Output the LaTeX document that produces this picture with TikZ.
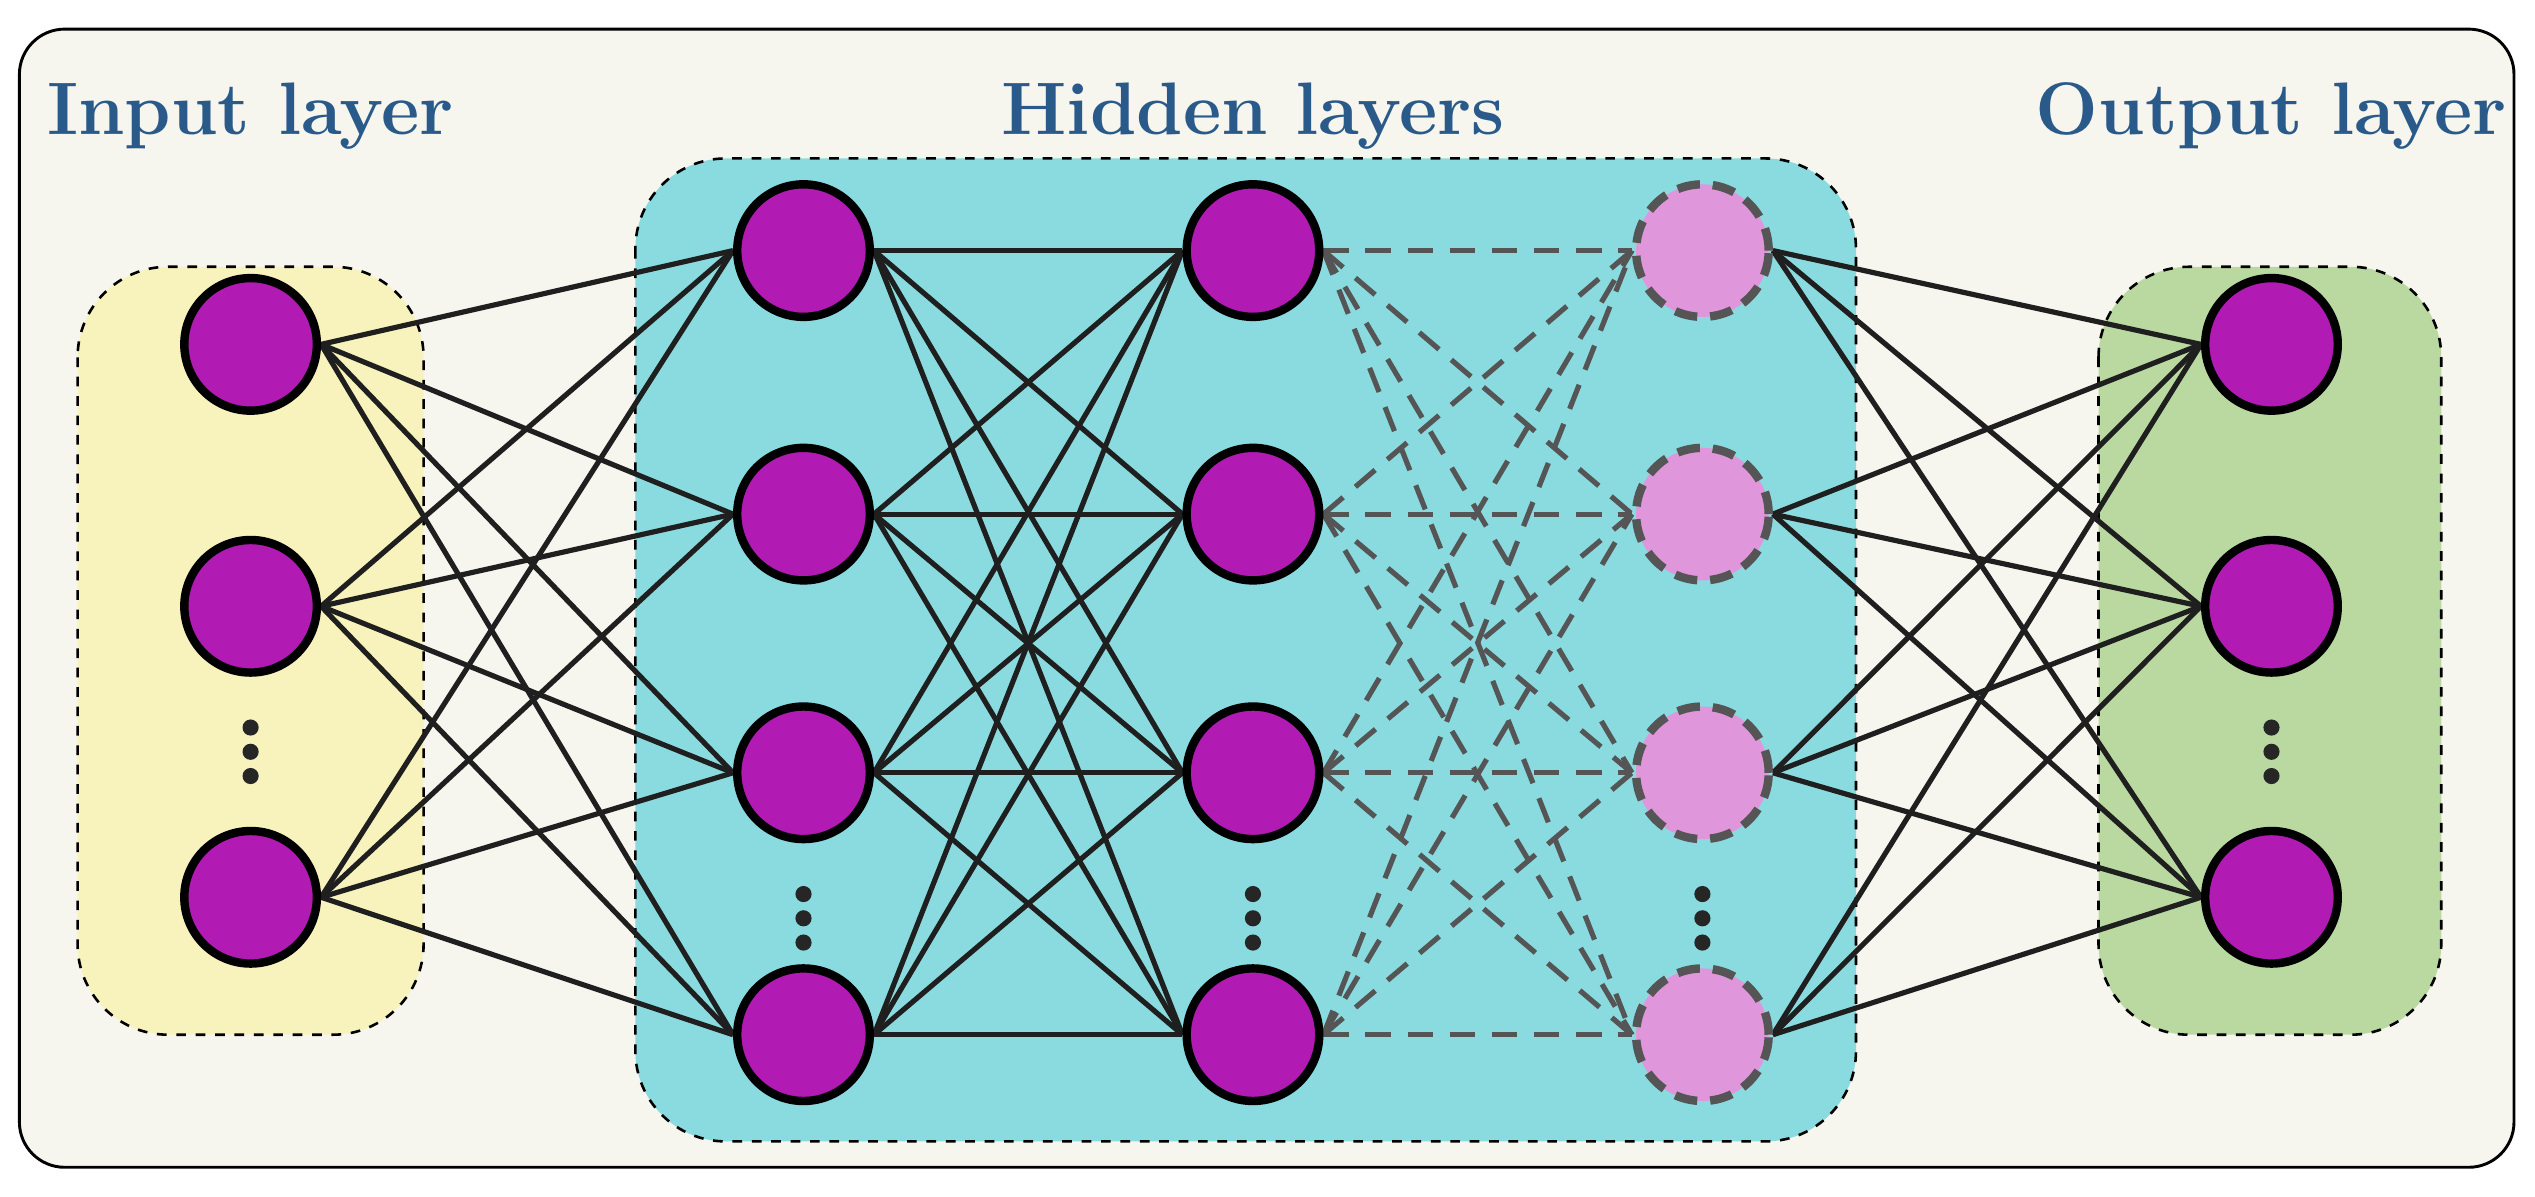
\documentclass[tikz,border=0pt]{standalone}
\usetikzlibrary{backgrounds}
\definecolor{frame}{HTML}{F6F5EE}
\definecolor{inbox}{HTML}{F8F3BC}
\definecolor{hidbox}{HTML}{8ADBE0}
\definecolor{outbox}{HTML}{B9D9A1}
\definecolor{neur}{HTML}{B21AB4}
\definecolor{drop}{HTML}{E096DA}
\definecolor{title}{HTML}{2A5A8A}
\definecolor{dgray}{HTML}{555555}
\pgfdeclarelayer{edges}
\pgfsetlayers{background,edges,main}
\begin{document}
\begin{tikzpicture}[x=0.5pt,y=-0.5pt,
  neuron/.style={circle,draw=black,fill=neur,line width=2.6pt,minimum size=41pt,inner sep=0pt},
  dneuron/.style={circle,draw=dgray,fill=drop,line width=2.6pt,dash pattern=on 7pt off 4pt,minimum size=41pt,inner sep=0pt},
  grp/.style={draw=black,dashed,line width=0.8pt,rounded corners=28pt},
  edge/.style={draw=black!88,line width=1.6pt},
  dedge/.style={draw=dgray,line width=1.6pt,dash pattern=on 8pt off 5pt},
  ttl/.style={text=title,font=\fontsize{23}{27}\selectfont\bfseries},
  dot/.style={circle,fill=black!85,inner sep=0pt,minimum size=5pt}]
\useasboundingbox (0,0) rectangle (1568,740);
\begin{scope}[on background layer]
\draw[line width=0.9pt,fill=frame,rounded corners=14pt] (12,18) rectangle (1555,722);
\draw[grp,fill=inbox] (48,165) rectangle (262,640);
\draw[grp,fill=hidbox] (393,98) rectangle (1148,706);
\draw[grp,fill=outbox] (1298,165) rectangle (1510,640);
\end{scope}
\node[ttl] (t1) at (155,72) {Input layer};
\node[ttl] (t2) at (775,72) {Hidden layers};
\node[ttl] (t3) at (1405,72) {Output layer};
\foreach \y [count=\i] in {213,375,555}{
  \node[neuron] (i\i) at (155,\y) {};
  \node[neuron] (o\i) at (1405,\y) {};}
\foreach \y [count=\i] in {155,318,478,640}{
  \node[neuron] (a\i) at (497,\y) {};
  \node[neuron] (b\i) at (775,\y) {};
  \node[dneuron] (c\i) at (1053,\y) {};}
\foreach \x/\y in {155/465,497/568,775/568,1053/568,1405/465}{
  \node[dot] at (\x,\y-15) {};\node[dot] at (\x,\y) {};\node[dot] at (\x,\y+15) {};}
\begin{pgfonlayer}{edges}
\foreach \i in {1,2,3}{\foreach \j in {1,2,3,4}{
  \draw[edge] (i\i.east) -- (a\j.west);
  \draw[edge] (c\j.east) -- (o\i.west);}}
\foreach \i in {1,2,3,4}{\foreach \j in {1,2,3,4}{
  \draw[edge] (a\i.east) -- (b\j.west);
  \draw[dedge] (b\i.east) -- (c\j.west);}}
\end{pgfonlayer}
\end{tikzpicture}
\end{document}
